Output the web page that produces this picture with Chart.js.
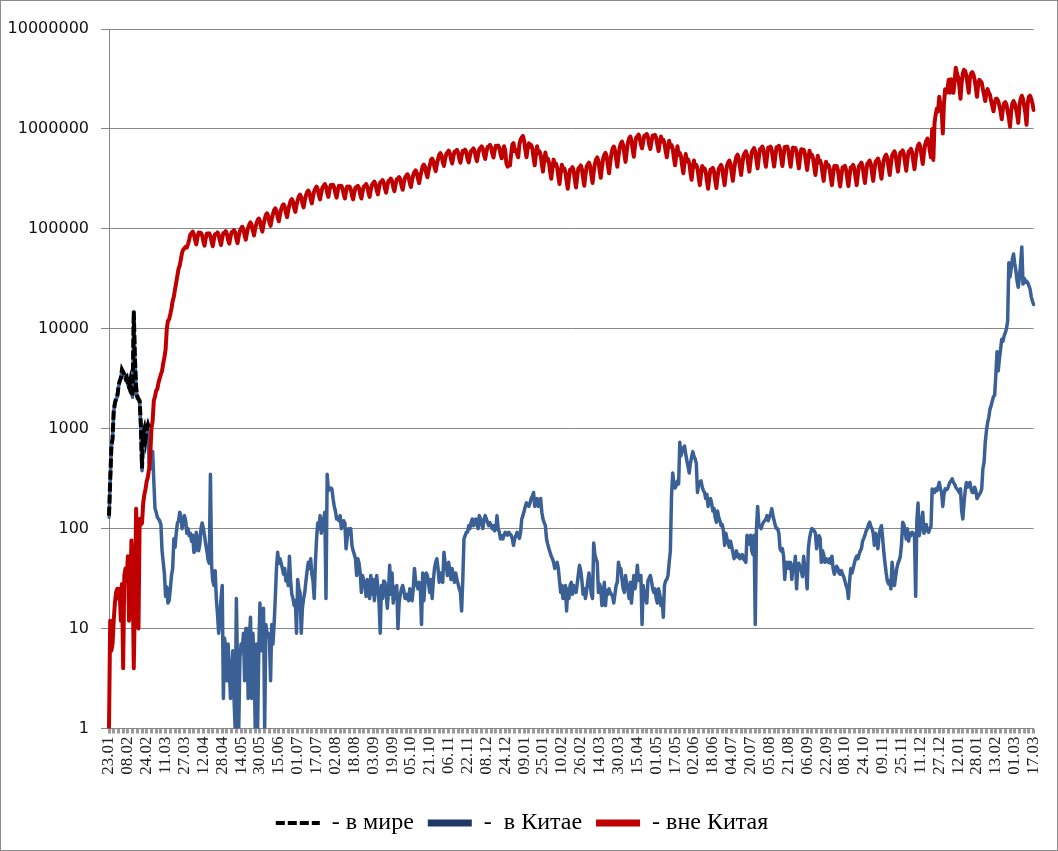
<!DOCTYPE html>
<html>
<head>
<meta charset="utf-8">
<script src="https://cdn.jsdelivr.net/npm/chart.js@4.4.1/dist/chart.umd.min.js"></script>
<style>
  body { margin: 0; background: #fff; }
  #wrap { width: 1058px; height: 851px; box-sizing: border-box; border: 1px solid #8c8c8c; }
  canvas { display: block; }
</style>
</head>
<body>
<div id="wrap"><canvas id="graphCanvas" width="1056" height="849"></canvas></div>
<script>
// x axis labels, one every 16 days (23.01.2020 ... 17.03.2022)
var tickLabels = ['23.01', '08.02', '24.02', '11.03', '27.03', '12.04', '28.04', '14.05', '30.05', '15.06',
    '01.07', '17.07', '02.08', '18.08', '03.09', '19.09', '05.10', '21.10', '06.11', '22.11',
    '08.12', '24.12', '09.01', '25.01', '10.02', '26.02', '14.03', '30.03', '15.04', '01.05',
    '17.05', '02.06', '18.06', '04.07', '20.07', '05.08', '21.08', '06.09', '22.09', '08.10',
    '24.10', '09.11', '25.11', '11.12', '27.12', '12.01', '28.01', '13.02', '01.03', '17.03'];

var yTicks = [1, 10, 100, 1000, 10000, 100000, 1000000, 10000000];

// daily new cases - world (only first weeks shown)
var world = [
    135, 300, 650, 800, 1500, 1800, 2000, 2100, 2600, 3000,
    3200, 3900, 3700, 3500, 3200, 3300, 2800, 2600, 3000, 2500,
    2100, 15000, 5000, 2600, 2100, 2000, 1900, 1100, 400, 900,
    1000, 800, 1000, 1100, 1000
];

// daily new cases - China
var china = [
    130, 290, 640, 790, 1480, 1780, 1980, 2080, 2580, 2970,
    3170, 3870, 3660, 3460, 3170, 3260, 2750, 2560, 2950, 2430,
    2060, 14900, 4900, 2500, 2000, 1950, 1850, 1000, 380, 850,
    950, 750, 900, 1000, 450, 520, 400, 590, 300, 160,
    146, 130, 125, 120, 110, 60, 46, 35, 21, 26,
    18, 19, 25, 34, 40, 79, 65, 90, 114, 120,
    146, 130, 100, 115, 135, 120, 90, 100, 85, 90,
    75, 86, 58, 60, 92, 80, 60, 70, 100, 114,
    100, 85, 70, 60, 49, 45, 350, 43, 30, 27,
    38, 20, 14, 9, 12, 20, 27, 2, 8, 6,
    3, 7, 4, 2, 3, 6, 2, 1, 20, 4,
    1, 5, 7, 6, 9, 3, 10, 10, 2, 8,
    13, 2, 9, 5, 1, 7, 1, 6, 18, 6,
    10, 16, 1, 11, 9, 9, 8, 3, 11, 7,
    11, 20, 40, 58, 45, 50, 45, 40, 35, 40,
    30, 33, 27, 53, 30, 22, 20, 17, 19, 9,
    31, 25, 23, 9, 16, 20, 23, 30, 38, 46,
    40, 50, 35, 30, 20, 45, 79, 114, 100, 135,
    90, 110, 125, 146, 20, 350, 240, 250, 255, 250,
    200, 167, 150, 125, 130, 120, 135, 100, 110, 120,
    114, 63, 80, 100, 90, 100, 68, 60, 55, 50,
    34, 50, 45, 36, 23, 34, 30, 28, 21, 31,
    25, 20, 34, 22, 31, 19, 28, 34, 25, 18,
    9, 27, 20, 30, 29, 22, 16, 24, 43, 22,
    36, 18, 26, 20, 27, 10, 18, 22, 25, 27,
    24, 20, 20, 22, 19, 25, 22, 19, 25, 40,
    30, 27, 25, 29, 26, 11, 36, 19, 30, 36,
    34, 28, 23, 31, 20, 30, 40, 46, 50, 40,
    29, 36, 33, 29, 58, 45, 43, 34, 46, 38,
    31, 40, 33, 29, 36, 31, 28, 25, 23, 15,
    31, 79, 85, 92, 92, 107, 100, 115, 125, 107,
    118, 125, 110, 100, 135, 125, 110, 100, 125, 135,
    125, 115, 107, 115, 108, 100, 107, 95, 100, 135,
    100, 92, 79, 85, 79, 86, 92, 88, 86, 92,
    88, 86, 79, 68, 79, 85, 92, 86, 80, 92,
    125, 135, 150, 167, 181, 170, 167, 181, 200, 213,
    230, 167, 190, 200, 167, 180, 200, 146, 125, 115,
    107, 79, 70, 63, 58, 53, 50, 46, 40, 43,
    46, 40, 30, 23, 27, 20, 21, 27, 15, 25,
    20, 27, 29, 22, 27, 25, 23, 28, 35, 43,
    38, 30, 22, 25, 20, 24, 30, 36, 28, 22,
    20, 72, 55, 50, 46, 23, 28, 25, 17, 22,
    29, 17, 24, 22, 25, 23, 22, 21, 18, 22,
    27, 29, 46, 40, 40, 31, 25, 23, 34, 27,
    25, 20, 29, 18, 25, 34, 25, 30, 43, 31,
    30, 34, 11, 27, 22, 20, 18, 30, 32, 34,
    30, 25, 23, 25, 20, 18, 25, 22, 17, 20,
    13, 27, 30, 31, 34, 46, 60, 213, 360, 280,
    255, 270, 300, 280, 730, 535, 600, 640, 670, 560,
    480, 420, 360, 450, 520, 590, 530, 500, 450, 230,
    280, 290, 300, 260, 240, 230, 200, 220, 167, 190,
    200, 180, 150, 160, 130, 116, 150, 130, 120, 107,
    110, 95, 68, 90, 80, 72, 65, 75, 66, 58,
    50, 55, 60, 52, 55, 50, 52, 55, 50, 48,
    46, 86, 75, 70, 86, 60, 55, 86, 11, 100,
    167, 110, 105, 100, 110, 116, 120, 125, 135, 120,
    130, 140, 158, 135, 120, 107, 100, 100, 90, 63,
    60, 63, 53, 31, 46, 40, 46, 40, 46, 31,
    43, 40, 53, 25, 40, 45, 40, 38, 33, 53,
    40, 36, 25, 63, 80, 92, 100, 98, 95, 90,
    63, 75, 85, 80, 46, 60, 55, 46, 50, 48,
    46, 50, 45, 53, 40, 35, 38, 42, 40, 36,
    35, 38, 35, 33, 30, 27, 25, 20, 30, 40,
    36, 40, 45, 50, 53, 50, 55, 60, 63, 75,
    80, 86, 95, 100, 110, 116, 105, 100, 90, 68,
    90, 80, 63, 85, 100, 107, 80, 58, 45, 36,
    30, 28, 30, 25, 46, 35, 27, 33, 40, 45,
    48, 53, 70, 116, 110, 95, 79, 100, 75, 90,
    85, 92, 90, 85, 21, 120, 181, 85, 100, 120,
    146, 90, 100, 110, 95, 92, 100, 105, 250, 240,
    230, 250, 240, 260, 290, 250, 230, 167, 220, 250,
    245, 250, 270, 290, 300, 316, 290, 280, 260, 250,
    240, 230, 250, 150, 125, 180, 240, 290, 260, 270,
    290, 250, 230, 230, 260, 240, 200, 210, 220, 230,
    250, 400, 460, 730, 950, 1150, 1300, 1570, 1700, 1900,
    2100, 2170, 3500, 5900, 3800, 5000, 6240, 7850, 7500, 8500,
    9100, 10000, 12000, 45800, 33000, 40000, 50000, 56000, 45000, 38000,
    30000, 26000, 33000, 45000, 66000, 28000, 32000, 29000, 30000, 29000,
    27000, 25000, 21000, 19000, 17500
];

// daily new cases - outside China
var outside = [
    1, 12, 6, 7, 12, 18, 23, 25, 20, 25,
    12, 28, 4, 34, 40, 30, 53, 12, 20, 76,
    40, 4, 20, 158, 60, 10, 125, 110, 114, 180,
    220, 250, 300, 330, 400, 550, 1000, 1200, 1900, 2100,
    2400, 2500, 2900, 3200, 3500, 3800, 4500, 5200, 6200, 10000,
    12000, 12500, 14000, 16000, 19000, 21000, 25000, 29000, 34000, 40000,
    43000, 50000, 58000, 62000, 64000, 66000, 65000, 70000, 78000, 88000,
    90000, 94000, 88000, 77000, 70000, 82000, 92000, 88000, 91000, 86000,
    75000, 68000, 80000, 90000, 87000, 90000, 85000, 74000, 67000, 79000,
    89000, 89000, 92000, 87000, 76000, 69000, 81000, 91000, 91000, 95000,
    89000, 77000, 71000, 83000, 93000, 93000, 97000, 92000, 79000, 72000,
    84000, 95000, 101000, 105000, 99000, 86000, 78000, 91000, 103000, 111000,
    116000, 109000, 95000, 86000, 101000, 113000, 122000, 127000, 120000, 104000,
    94000, 110000, 124000, 138000, 143000, 135000, 117000, 107000, 125000, 140000,
    154000, 160000, 151000, 131000, 119000, 139000, 157000, 170000, 176000, 166000,
    144000, 131000, 154000, 173000, 191000, 198000, 187000, 162000, 148000, 173000,
    194000, 212000, 220000, 208000, 180000, 164000, 192000, 216000, 233000, 242000,
    229000, 198000, 180000, 211000, 238000, 254000, 264000, 250000, 216000, 197000,
    230000, 259000, 270000, 281000, 265000, 230000, 209000, 245000, 275000, 265000,
    275000, 260000, 225000, 205000, 240000, 270000, 260000, 270000, 255000, 221000,
    201000, 235000, 265000, 254000, 264000, 250000, 216000, 197000, 230000, 259000,
    260000, 270000, 255000, 221000, 201000, 235000, 265000, 270000, 281000, 265000,
    230000, 209000, 245000, 275000, 286000, 297000, 281000, 243000, 221000, 259000,
    292000, 297000, 308000, 291000, 252000, 230000, 269000, 302000, 307000, 319000,
    302000, 261000, 238000, 278000, 313000, 318000, 330000, 312000, 270000, 246000,
    288000, 324000, 339000, 352000, 333000, 288000, 262000, 307000, 346000, 371000,
    385000, 364000, 315000, 287000, 336000, 378000, 424000, 440000, 416000, 360000,
    328000, 384000, 432000, 488000, 506000, 478000, 414000, 377000, 442000, 497000,
    551000, 572000, 541000, 468000, 426000, 499000, 562000, 583000, 605000, 572000,
    495000, 451000, 528000, 594000, 594000, 616000, 582000, 504000, 459000, 538000,
    605000, 590000, 620000, 585000, 500000, 462000, 535000, 600000, 615000, 638000,
    603000, 522000, 476000, 557000, 626000, 647000, 671000, 634000, 549000, 500000,
    586000, 659000, 668000, 693000, 655000, 567000, 517000, 605000, 680000, 657000,
    682000, 645000, 558000, 508000, 595000, 670000, 600000, 450000, 420000, 430000,
    430000, 560000, 700000, 720000, 600000, 620000, 560000, 520000, 700000, 780000,
    820000, 850000, 760000, 620000, 520000, 640000, 720000, 660000, 690000, 636000,
    516000, 432000, 552000, 672000, 572000, 598000, 551000, 447000, 374000, 478000,
    582000, 484000, 506000, 466000, 378000, 317000, 405000, 493000, 429000, 449000,
    413000, 335000, 281000, 359000, 437000, 385000, 403000, 371000, 301000, 252000,
    322000, 392000, 396000, 414000, 382000, 310000, 259000, 331000, 403000, 413000,
    431000, 398000, 323000, 270000, 345000, 420000, 440000, 460000, 424000, 344000,
    288000, 368000, 448000, 495000, 518000, 477000, 387000, 324000, 414000, 504000,
    550000, 575000, 530000, 430000, 360000, 460000, 560000, 638000, 667000, 615000,
    499000, 418000, 534000, 650000, 715000, 748000, 689000, 559000, 468000, 598000,
    728000, 803000, 840000, 774000, 628000, 526000, 672000, 818000, 840000, 880000,
    820000, 700000, 640000, 740000, 860000, 850000, 890000, 830000, 700000, 630000,
    740000, 860000, 830000, 870000, 810000, 690000, 600000, 720000, 840000, 750000,
    780000, 720000, 600000, 520000, 640000, 760000, 660000, 690000, 636000, 516000,
    432000, 552000, 672000, 550000, 575000, 530000, 430000, 360000, 460000, 560000,
    473000, 495000, 456000, 370000, 310000, 396000, 482000, 418000, 437000, 403000,
    327000, 274000, 350000, 426000, 385000, 403000, 371000, 301000, 252000, 322000,
    392000, 391000, 408000, 376000, 305000, 256000, 327000, 398000, 418000, 437000,
    403000, 327000, 274000, 350000, 426000, 462000, 483000, 445000, 361000, 302000,
    386000, 470000, 528000, 552000, 509000, 413000, 346000, 442000, 538000, 572000,
    598000, 551000, 447000, 374000, 478000, 582000, 616000, 644000, 594000, 482000,
    403000, 515000, 627000, 638000, 667000, 615000, 499000, 418000, 534000, 650000,
    640000, 665000, 610000, 500000, 420000, 530000, 655000, 649000, 679000, 625000,
    507000, 425000, 543000, 661000, 638000, 667000, 615000, 499000, 418000, 534000,
    650000, 616000, 644000, 594000, 482000, 403000, 515000, 627000, 594000, 621000,
    572000, 464000, 389000, 497000, 605000, 528000, 552000, 509000, 413000, 346000,
    442000, 538000, 462000, 483000, 445000, 361000, 302000, 386000, 470000, 418000,
    437000, 403000, 327000, 274000, 350000, 426000, 407000, 426000, 392000, 318000,
    266000, 340000, 414000, 405000, 428000, 390000, 320000, 268000, 342000, 412000,
    418000, 437000, 403000, 327000, 274000, 350000, 426000, 440000, 460000, 424000,
    344000, 288000, 368000, 448000, 462000, 483000, 445000, 361000, 302000, 386000,
    470000, 484000, 506000, 466000, 378000, 317000, 405000, 493000, 528000, 552000,
    509000, 413000, 346000, 442000, 538000, 572000, 598000, 551000, 447000, 374000,
    478000, 582000, 583000, 610000, 562000, 456000, 382000, 488000, 594000, 605000,
    633000, 583000, 473000, 396000, 506000, 616000, 682000, 713000, 657000, 533000,
    446000, 570000, 694000, 760000, 800000, 740000, 600000, 520000, 1000000, 490000,
    1150000, 1400000, 1600000, 1500000, 2100000, 1700000, 1600000, 900000, 1800000, 2500000,
    2300000, 2500000, 3100000, 2300000, 3150000, 2600000, 2300000, 3000000, 4100000, 3600000,
    3300000, 2700000, 2000000, 2900000, 3600000, 3900000, 3800000, 3400000, 2800000, 2300000,
    3200000, 3600000, 3700000, 3500000, 3100000, 2600000, 2100000, 2800000, 3100000, 3000000,
    2900000, 2500000, 2200000, 1900000, 2300000, 2500000, 2300000, 2200000, 1900000, 1700000,
    1500000, 1800000, 2000000, 2000000, 1900000, 1700000, 1500000, 1250000, 1600000, 1800000,
    1850000, 1750000, 1500000, 1300000, 1050000, 1500000, 1800000, 1900000, 1800000, 1600000,
    1400000, 1150000, 1700000, 2000000, 2150000, 2000000, 1700000, 1450000, 1100000, 1800000,
    2100000, 2150000, 2000000, 1800000, 1550000
];

// one category per day, label only every 16th day
var days = [];
for (var i = 0; i < outside.length; i++) {
    days.push(i % 16 === 0 ? tickLabels[i / 16] : '');
}

var chartdata = {
    labels: days,
    datasets: [
        {
            label: '- в мире',
            data: world,
            borderColor: '#000000',
            borderWidth: 4,
            borderDash: [9, 3],
            pointRadius: 0,
            tension: 0,
            fill: false,
            order: 0
        },
        {
            label: '-  в Китае',
            data: china,
            borderColor: '#3A6096',
            borderWidth: 3.5,
            borderJoinStyle: 'round',
            borderCapStyle: 'round',
            pointRadius: 0,
            tension: 0,
            fill: false,
            order: 2
        },
        {
            label: '- вне Китая',
            data: outside,
            borderColor: '#C00000',
            borderWidth: 4,
            borderJoinStyle: 'round',
            borderCapStyle: 'round',
            pointRadius: 0,
            tension: 0,
            fill: false,
            order: 1
        }
    ]
};

var graphTarget = document.getElementById('graphCanvas');

var LineGraph = new Chart(graphTarget, {
    type: 'line',
    data: chartdata,
    options: {
        responsive: false,
        animation: false,
        events: [],
        layout: {
            padding: { top: 28, right: 14, bottom: 5, left: 0 }
        },
        scales: {
            x: {
                type: 'category',
                afterFit: function (scale) { scale.height = 68.5; },
                border: { color: '#888888', width: 1 },
                grid: {
                    drawOnChartArea: false,
                    drawTicks: true,
                    tickLength: 5,
                    tickWidth: 3,
                    tickColor: function (ctx) {
                        return ctx.index % 4 === 0 ? '#9a9a9a' : 'rgba(0,0,0,0)';
                    }
                },
                ticks: {
                    autoSkip: false,
                    minRotation: 90,
                    maxRotation: 90,
                    padding: 3,
                    color: '#222222',
                    font: { family: 'Liberation Serif', size: 17 },
                    callback: function (value, index) { return days[index]; }
                }
            },
            y: {
                type: 'logarithmic',
                min: 1,
                max: 10000000,
                afterFit: function (scale) { scale.width = 108; },
                afterBuildTicks: function (scale) {
                    scale.ticks = yTicks.map(function (v) { return { value: v }; });
                },
                border: { color: '#888888', width: 1 },
                grid: {
                    color: '#888888',
                    lineWidth: 1,
                    drawTicks: true,
                    tickLength: 8
                },
                ticks: {
                    padding: 12,
                    color: '#111111',
                    font: { family: 'DejaVu Sans', size: 16 },
                    callback: function (value) { return String(value); }
                }
            }
        },
        plugins: {
            tooltip: { enabled: false },
            legend: {
                display: true,
                position: 'bottom',
                labels: {
                    usePointStyle: true,
                    pointStyleWidth: 44,
                    padding: 14,
                    color: '#000000',
                    font: { family: 'Liberation Serif', size: 24 },
                    generateLabels: function () {
                        return [
                            { text: '- в мире', strokeStyle: '#000000', fillStyle: '#000000', fontColor: '#000000',
                              lineWidth: 4, lineDash: [9, 3], pointStyle: 'line', datasetIndex: 0 },
                            { text: '-  в Китае', strokeStyle: '#1F3864', fillStyle: '#1F3864', fontColor: '#000000',
                              lineWidth: 7, pointStyle: 'line', datasetIndex: 1 },
                            { text: '- вне Китая', strokeStyle: '#C00000', fillStyle: '#C00000', fontColor: '#000000',
                              lineWidth: 7, pointStyle: 'line', datasetIndex: 2 }
                        ];
                    }
                }
            }
        }
    }
});
</script>
</body>
</html>
